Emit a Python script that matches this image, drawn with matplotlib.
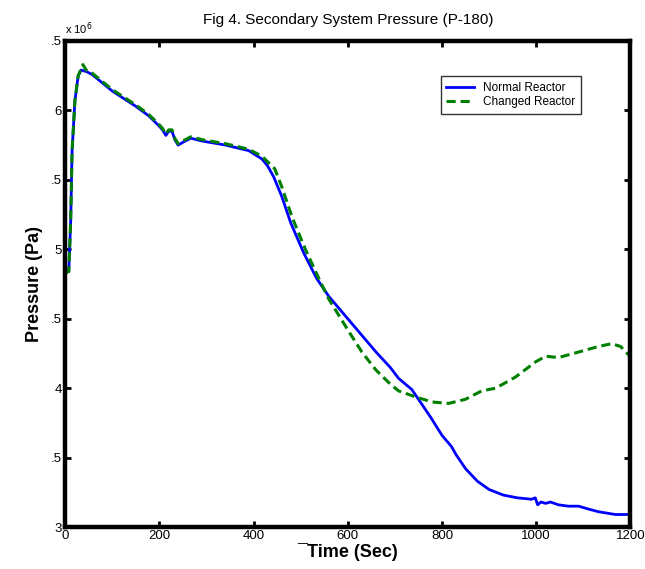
import numpy as np
import matplotlib

matplotlib.use("Agg")
import matplotlib.pyplot as plt

plt.rcParams["font.family"] = ["Liberation Sans", "DejaVu Sans"]

# Pressure in units of 1e6 Pa
t_normal = [0, 8, 12, 15, 21, 28, 34, 45, 57, 100, 150, 178, 199, 207, 214, 220, 227,
            233, 240, 250, 267, 290, 341, 390, 418, 430, 443, 460, 479, 507, 534, 560,
            580, 600, 630, 660, 690, 708, 736, 746, 776, 800, 810, 820, 830, 850, 875,
            900, 930, 960, 990, 998, 1003, 1010, 1020, 1030, 1047, 1068, 1090, 1110,
            1132, 1150, 1168, 1191, 1200]
p_normal = [4.83, 4.84, 5.2, 5.71, 6.07, 6.25, 6.29, 6.28, 6.26, 6.14, 6.03, 5.96, 5.89,
            5.86, 5.82, 5.85, 5.85, 5.79, 5.75, 5.77, 5.80, 5.78, 5.75, 5.71, 5.65, 5.60,
            5.52, 5.38, 5.19, 4.97, 4.79, 4.66, 4.58, 4.50, 4.38, 4.26, 4.15, 4.07, 3.99,
            3.94, 3.79, 3.66, 3.62, 3.58, 3.52, 3.42, 3.33, 3.27, 3.23, 3.21, 3.20, 3.21,
            3.16, 3.18, 3.17, 3.18, 3.16, 3.15, 3.15, 3.13, 3.11, 3.10, 3.09, 3.09, 3.09]

t_changed = [0, 8, 12, 15, 21, 28, 38, 45, 57, 100, 150, 178, 199, 207, 214, 220, 227,
             233, 240, 250, 267, 290, 341, 390, 418, 430, 445, 460, 482, 510, 540, 560,
             580, 600, 630, 660, 690, 708, 750, 780, 814, 850, 884, 914, 956, 999, 1020,
             1047, 1090, 1132, 1160, 1179, 1196, 1200]
p_changed = [4.83, 4.84, 5.2, 5.71, 6.07, 6.25, 6.33, 6.29, 6.27, 6.15, 6.04, 5.97, 5.90,
             5.87, 5.83, 5.86, 5.86, 5.80, 5.76, 5.78, 5.81, 5.79, 5.76, 5.72, 5.67, 5.63,
             5.58, 5.45, 5.23, 5.00, 4.78, 4.64, 4.53, 4.42, 4.26, 4.13, 4.03, 3.98, 3.93,
             3.90, 3.89, 3.92, 3.98, 4.00, 4.08, 4.19, 4.23, 4.22, 4.26, 4.30, 4.32, 4.30,
             4.24, 4.23]

y_ticks = [3.0, 3.5, 4.0, 4.5, 5.0, 5.5, 6.0, 6.5]
y_labels = ["3", ".5", "4", ".5", "5", ".5", "6", ".5"]
x_ticks = [0, 200, 400, 600, 800, 1000, 1200]

fig = plt.figure(figsize=(6.45, 5.69), dpi=100)
ax = fig.add_axes([0.1008, 0.0738, 0.8767, 0.8542])

ax.plot(t_normal, np.array(p_normal) * 1e6, color="#0000ff", lw=2.0,
        label="Normal Reactor")
ax.plot(t_changed, np.array(p_changed) * 1e6, color="#008000", lw=2.2,
        ls=(0, (3, 1.6)), label="Changed Reactor")

ax.set_xlim(0, 1200)
ax.set_ylim(3e6, 6.5e6)
ax.set_xticks(x_ticks)
ax.set_xticklabels([str(v) for v in x_ticks])
ax.set_yticks([v * 1e6 for v in y_ticks])
ax.set_yticklabels(y_labels)
ax.tick_params(direction="in", length=4, width=2, top=True, right=True,
               labelsize=9.5, pad=2)
for s in ax.spines.values():
    s.set_linewidth(3.2)

ax.text(0.0, 1.008, "x 10$^6$", transform=ax.transAxes, fontsize=8,
        ha="left", va="bottom")
ax.set_title("Fig 4. Secondary System Pressure (P-180)", fontsize=11, pad=12)
ax.set_xlabel("\u00afTime (Sec)", fontsize=13, fontweight="bold", labelpad=1)
ax.set_ylabel("Pressure (Pa)", fontsize=13, fontweight="bold", labelpad=6)

leg = ax.legend(loc="upper right", bbox_to_anchor=(0.923, 0.94), fontsize=8.5,
                frameon=True, fancybox=False, edgecolor="black",
                handlelength=2.3, borderpad=0.5, labelspacing=0.2)
leg.get_frame().set_linewidth(1.0)

fig.savefig("out.png", dpi=100)
